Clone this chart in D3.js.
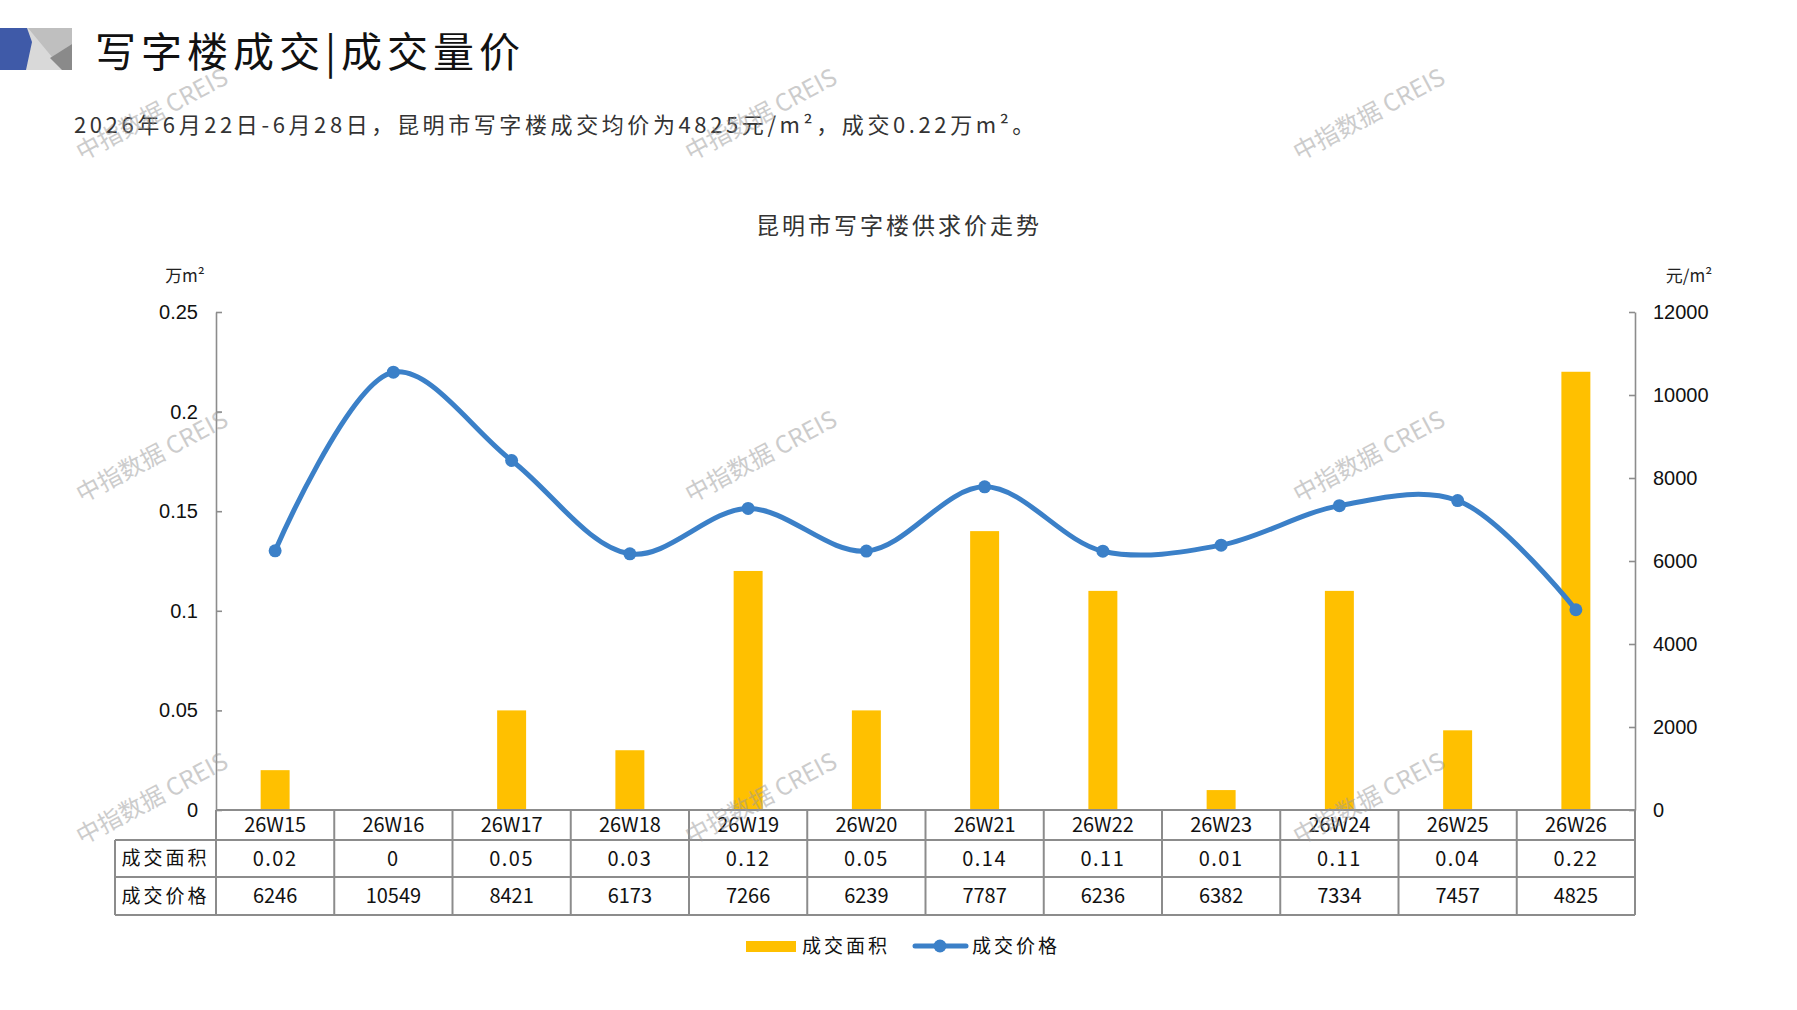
<!DOCTYPE html>
<html>
<head>
<meta charset="utf-8">
<script src="https://cdn.jsdelivr.net/npm/d3@7"></script>
<style>
  body { margin: 0; background: #fff; }
  svg text { font-family: "Noto Sans CJK SC", "Noto Sans", sans-serif; }
</style>
</head>
<body>
<div id="chart"></div>
<script>
const weeks = ['26W15', '26W16', '26W17', '26W18', '26W19', '26W20', '26W21', '26W22', '26W23', '26W24', '26W25', '26W26'];
const area = [0.02, 0, 0.05, 0.03, 0.12, 0.05, 0.14, 0.11, 0.01, 0.11, 0.04, 0.22];
const price = [6246, 10549, 8421, 6173, 7266, 6239, 7787, 6236, 6382, 7334, 7457, 4825];
const areaTicks = [0, 0.05, 0.1, 0.15, 0.2, 0.25];
const priceTicks = [0, 2000, 4000, 6000, 8000, 10000, 12000];
const rowNames = ['成交面积', '成交价格'];

const W = 1797, H = 1010;
const barColor = '#ffc000';
const lineColor = '#3b80c8';
const gridColor = '#8c8c8c';

const svg = d3.select('#chart').append('svg')
  .attr('width', W)
  .attr('height', H);

// header block
const logo = svg.append('g');
logo.append('rect').attr('x', 0).attr('y', 28).attr('width', 72).attr('height', 42).attr('fill', '#d9d9d9');
logo.append('polygon').attr('points', '28,28 72,28 72,44 52,57').attr('fill', '#bfbfbf');
logo.append('polygon').attr('points', '72,44 72,70 62,70 50,58').attr('fill', '#8a8a8a');
logo.append('polygon').attr('points', '0,28 27,28 32,42 26,70 0,70').attr('fill', '#3f5aa8');

svg.append('text')
  .attr('x', 95).attr('y', 67)
  .attr('font-size', 41)
  .attr('letter-spacing', 5)
  .attr('fill', '#111')
  .text('写字楼成交|成交量价');

svg.append('text')
  .attr('x', 74).attr('y', 133)
  .attr('font-size', 22)
  .attr('letter-spacing', 3.6)
  .attr('fill', '#333')
  .text('2026年6月22日-6月28日，昆明市写字楼成交均价为4825元/m²，成交0.22万m²。');

svg.append('text')
  .attr('x', 899).attr('y', 234)
  .attr('text-anchor', 'middle')
  .attr('font-size', 23)
  .attr('letter-spacing', 3)
  .attr('fill', '#333')
  .text('昆明市写字楼供求价走势');

// plot area
const x0 = 216, x1 = 1635, yTop = 312, yBase = 810;

const x = d3.scaleBand().domain(weeks).range([x0, x1]).padding(0);
const yL = d3.scaleLinear().domain([0, 0.25]).range([yBase, yTop]);
const yR = d3.scaleLinear().domain([0, 12000]).range([yBase, yTop]);

const barW = x.bandwidth() * 0.245;

svg.append('g')
  .selectAll('rect')
  .data(weeks)
  .join('rect')
  .attr('x', (d) => x(d) + x.bandwidth() / 2 - barW / 2)
  .attr('y', (d, i) => yL(area[i]))
  .attr('width', barW)
  .attr('height', (d, i) => yBase - yL(area[i]))
  .attr('fill', barColor);

const leftAxis = svg.append('g')
  .attr('transform', `translate(${x0},0)`)
  .call(d3.axisLeft(yL).tickValues(areaTicks).tickSize(-6).tickSizeOuter(0).tickPadding(18)
    .tickFormat((d) => String(+d.toFixed(2))));

const rightAxis = svg.append('g')
  .attr('transform', `translate(${x1},0)`)
  .call(d3.axisRight(yR).tickValues(priceTicks).tickSize(-6).tickSizeOuter(0).tickPadding(18)
    .tickFormat((d) => String(d)));

[leftAxis, rightAxis].forEach((a) => {
  a.select('.domain').attr('stroke', gridColor).attr('stroke-width', 1.6);
  a.selectAll('.tick line').attr('stroke', gridColor).attr('stroke-width', 1.6);
  a.selectAll('.tick text')
    .attr('font-size', 20)
    .attr('fill', '#111')
    .style('font-family', '"Liberation Sans", Arial, sans-serif');
});

svg.append('text')
  .attr('x', 185).attr('y', 282)
  .attr('text-anchor', 'middle')
  .attr('font-size', 17)
  .attr('fill', '#222')
  .text('万m²');

svg.append('text')
  .attr('x', 1689).attr('y', 282)
  .attr('text-anchor', 'middle')
  .attr('font-size', 17)
  .attr('fill', '#222')
  .text('元/m²');

// price line
const line = d3.line()
  .x((d, i) => x(weeks[i]) + x.bandwidth() / 2)
  .y((d) => yR(d))
  .curve(d3.curveCatmullRom.alpha(0.5));

svg.append('path')
  .datum(price)
  .attr('d', line)
  .attr('fill', 'none')
  .attr('stroke', lineColor)
  .attr('stroke-width', 5);

svg.append('g')
  .selectAll('circle')
  .data(price)
  .join('circle')
  .attr('cx', (d, i) => x(weeks[i]) + x.bandwidth() / 2)
  .attr('cy', (d) => yR(d))
  .attr('r', 6.5)
  .attr('fill', lineColor);

// data table
const tLeft = 115;
const rowY = [yBase, 840, 877, 915];
const table = svg.append('g');
const stroke = (sel) => sel.attr('stroke', gridColor).attr('stroke-width', 2);

// horizontal rules
table.append('line').attr('x1', x0).attr('x2', x1).attr('y1', rowY[0]).attr('y2', rowY[0]).call(stroke);
[1, 2, 3].forEach((r) => {
  table.append('line').attr('x1', tLeft).attr('x2', x1).attr('y1', rowY[r]).attr('y2', rowY[r]).call(stroke);
});
// vertical rules
table.append('line').attr('x1', tLeft).attr('x2', tLeft).attr('y1', rowY[1]).attr('y2', rowY[3]).call(stroke);
weeks.forEach((w) => {
  table.append('line').attr('x1', x(w)).attr('x2', x(w)).attr('y1', rowY[0]).attr('y2', rowY[3]).call(stroke);
});
table.append('line').attr('x1', x1).attr('x2', x1).attr('y1', rowY[0]).attr('y2', rowY[3]).call(stroke);

const cellText = (txt, cx, r) => table.append('text')
  .attr('x', cx)
  .attr('y', (rowY[r] + rowY[r + 1]) / 2)
  .attr('dy', '0.35em')
  .attr('text-anchor', 'middle')
  .attr('font-size', 20)
  .attr('fill', '#111')
  .text(txt);

weeks.forEach((w, i) => {
  const cx = x(w) + x.bandwidth() / 2;
  cellText(w, cx, 0);
  cellText(String(area[i]), cx, 1).attr('letter-spacing', 1.5);
  cellText(String(price[i]), cx, 2);
});
rowNames.forEach((n, r) => {
  cellText(n, (tLeft + x0) / 2, r + 1).attr('font-size', 19).attr('letter-spacing', 3);
});

// legend
const lg = svg.append('g');
lg.append('rect').attr('x', 746).attr('y', 941).attr('width', 50).attr('height', 11).attr('fill', barColor);
lg.append('text').attr('x', 802).attr('y', 946).attr('dy', '0.35em')
  .attr('font-size', 19).attr('letter-spacing', 3).attr('fill', '#111').text(rowNames[0]);
lg.append('line').attr('x1', 915).attr('x2', 966).attr('y1', 946).attr('y2', 946)
  .attr('stroke', lineColor).attr('stroke-width', 5).attr('stroke-linecap', 'round');
lg.append('circle').attr('cx', 940).attr('cy', 946).attr('r', 6.5).attr('fill', lineColor);
lg.append('text').attr('x', 972).attr('y', 946).attr('dy', '0.35em')
  .attr('font-size', 19).attr('letter-spacing', 3).attr('fill', '#111').text(rowNames[1]);

// watermarks
const wmX = [156, 765, 1373];
const wmY = [122, 464, 806];
const wm = svg.append('g').attr('pointer-events', 'none');
wmY.forEach((wy) => {
  wmX.forEach((wx) => {
    wm.append('text')
      .attr('transform', `translate(${wx},${wy}) rotate(-28)`)
      .attr('text-anchor', 'middle')
      .attr('font-size', 24)
      .attr('fill', '#9a9a9a')
      .attr('opacity', 0.5)
      .text('中指数据 CREIS');
  });
});
</script>
</body>
</html>
